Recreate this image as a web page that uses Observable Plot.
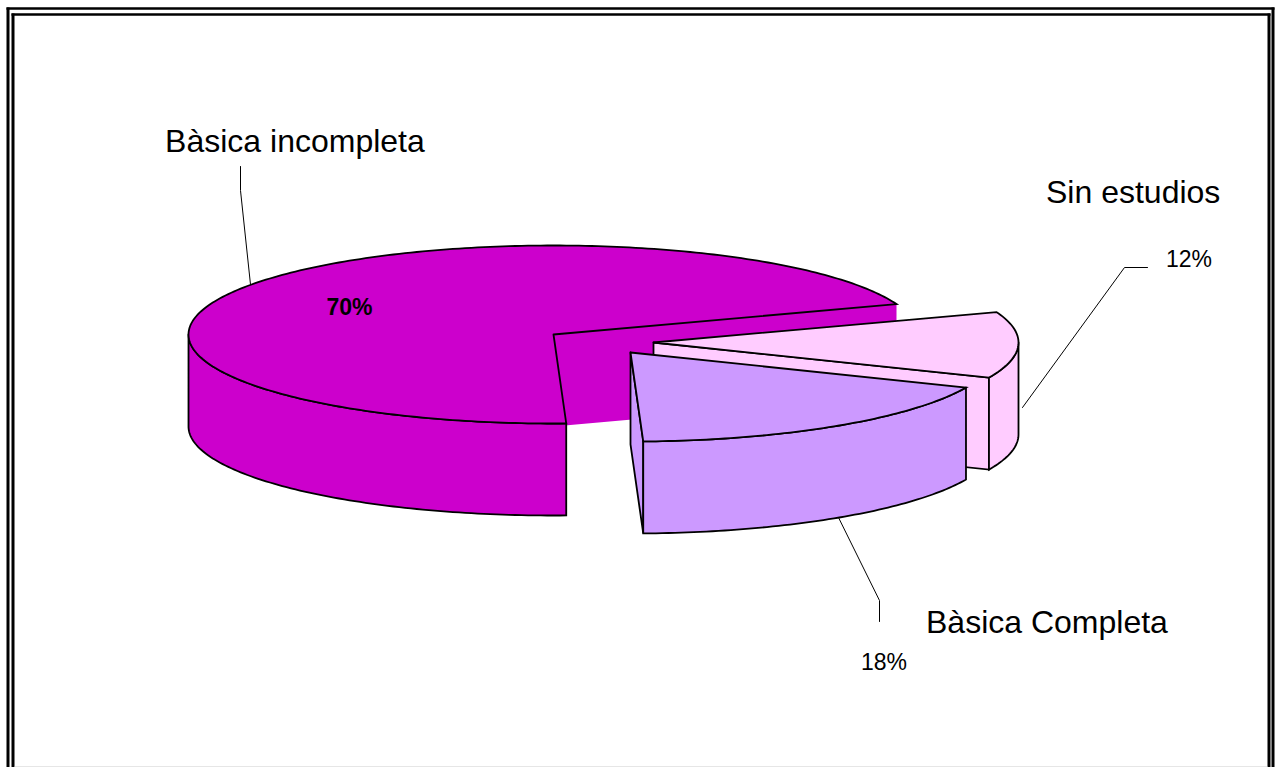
<!DOCTYPE html>
<html>
<head>
<meta charset="utf-8">
<script src="https://cdn.jsdelivr.net/npm/d3@7"></script>
<script src="https://cdn.jsdelivr.net/npm/@observablehq/plot@0.6"></script>
<style>html,body{margin:0;padding:0;background:#fff}svg{display:block}</style>
</head>
<body>
<div id="chart"></div>
<script>
// Data
const categories = ["Sin estudios", "Bàsica Completa", "Bàsica incompleta"];
const percents = [12, 18, 70];
const colors = ["#FFCCFF", "#CC99FF", "#CC00CC"];

// Pie layout
const W = 1275, H = 767;
const firstAngle = 20;          // parametric degrees, slices run clockwise
const rx = 365, ry = 89, depth = 92;
const centers = [[653, 342], [630, 352], [553, 334]]; // exploded apex of each slice
const lineW = 1.8;

const total = d3.sum(percents);
let acc = firstAngle;
const slices = categories.map((name, i) => {
  const a0 = acc, a1 = acc - percents[i] / total * 360;
  acc = a1;
  return {name, value: percents[i], color: colors[i], a0, a1, c: centers[i]};
});
const pt = (s, t, dz = 0) => {
  const r = t * Math.PI / 180;
  return [s.c[0] + rx * Math.cos(r), s.c[1] - ry * Math.sin(r) + dz];
};
const arc = (s, t0, t1, dz = 0) => {
  const n = Math.max(2, Math.ceil(Math.abs(t1 - t0)));
  return d3.range(n + 1).map(i => pt(s, t0 + (t1 - t0) * i / n, dz));
};
const apex = (s, dz = 0) => [s.c[0], s.c[1] + dz];
const X = d => d[0], Y = d => d[1];
const fillPoly = (pts, color) => Plot.line([...pts, pts[0]], {x: X, y: Y, fill: color, stroke: "none"});
const strokeLine = (pts, w = lineW) => Plot.line(pts, {x: X, y: Y, stroke: "#000", strokeWidth: w, strokeLinejoin: "miter", strokeMiterlimit: 4, curve: "linear"});
const poly = (pts, color) => [fillPoly(pts, color), strokeLine([...pts, pts[0]])];

const [pink, lilac, main] = slices;
// main slice runs from firstAngle counter-clockwise through the left to the front
const mainStart = firstAngle, mainEnd = firstAngle + 360 * percents[2] / total;

const marks = [];
// main slice: inner right cut face (no outline), outer wall, top
marks.push(fillPoly([apex(main), pt(main, mainStart), pt(main, mainStart, depth), apex(main, depth)], main.color));
marks.push(...poly([...arc(main, 180, mainEnd), ...arc(main, mainEnd, 180, depth)], main.color));
marks.push(...poly([apex(main), ...arc(main, mainStart, mainEnd)], main.color));
// Sin estudios: cut face, wall, top
marks.push(...poly([apex(pink), pt(pink, pink.a1), pt(pink, pink.a1, depth), apex(pink, depth)], pink.color));
marks.push(...poly([...arc(pink, 0, pink.a1), ...arc(pink, pink.a1, 0, depth)], pink.color));
marks.push(...poly([apex(pink), ...arc(pink, pink.a0, pink.a1)], pink.color));
// Bàsica Completa: left cut face, wall, top
marks.push(...poly([apex(lilac), pt(lilac, lilac.a1), pt(lilac, lilac.a1, depth), apex(lilac, depth)], lilac.color));
marks.push(...poly([...arc(lilac, lilac.a0, lilac.a1), ...arc(lilac, lilac.a1, lilac.a0, depth)], lilac.color));
marks.push(...poly([apex(lilac), ...arc(lilac, lilac.a0, lilac.a1)], lilac.color));

// Leader lines
const leaders = [
  [[240, 166], [240, 190], [250, 284]],
  [[1147, 267], [1124, 267], [1022, 407]],
  [[879, 621], [879, 600], [838, 517]]
];
leaders.forEach(l => marks.push(strokeLine(l, 1)));

// Labels
const labelRows = [
  {t: categories[2], x: 164.6, y: 151, s: 32, w: "normal"},
  {t: categories[0], x: 1045.5, y: 202, s: 32, w: "normal"},
  {t: categories[1], x: 925.5, y: 632.5, s: 32, w: "normal"},
  {t: percents[0] + "%", x: 1165.5, y: 266, s: 23, w: "normal"},
  {t: percents[1] + "%", x: 860.5, y: 669.5, s: 23, w: "normal"},
  {t: percents[2] + "%", x: 326, y: 314.5, s: 23, w: "bold"}
];
labelRows.forEach(l => marks.push(Plot.text([l], {
  x: "x", y: "y", text: "t", textAnchor: "start", lineAnchor: "bottom",
  fontSize: l.s, fontWeight: l.w, fontFamily: "Liberation Sans", fill: "#000"
})));

// Double page frame
const rule = (x1, y1, x2, y2, w, c = "#000") =>
  Plot.link([{x1, y1, x2, y2}], {x1: "x1", y1: "y1", x2: "x2", y2: "y2", stroke: c, strokeWidth: w, strokeLinecap: "butt"});
marks.push(
  rule(6, 8, 1274, 8, 2.5), rule(7.5, 7, 7.5, 767, 3), rule(1272.5, 7, 1272.5, 767, 3),
  rule(11, 14, 1270, 14, 2.5), rule(12.5, 13, 12.5, 767, 3), rule(1268.5, 13, 1268.5, 767, 3),
  rule(14, 766.5, 1267, 766.5, 1, "#ccc")
);

const chart = Plot.plot({
  width: W, height: H, margin: 0,
  x: {domain: [0, W], range: [0, W], axis: null},
  y: {domain: [0, H], range: [0, H], axis: null},
  marks
});
document.getElementById("chart").append(chart);
</script>
</body>
</html>
